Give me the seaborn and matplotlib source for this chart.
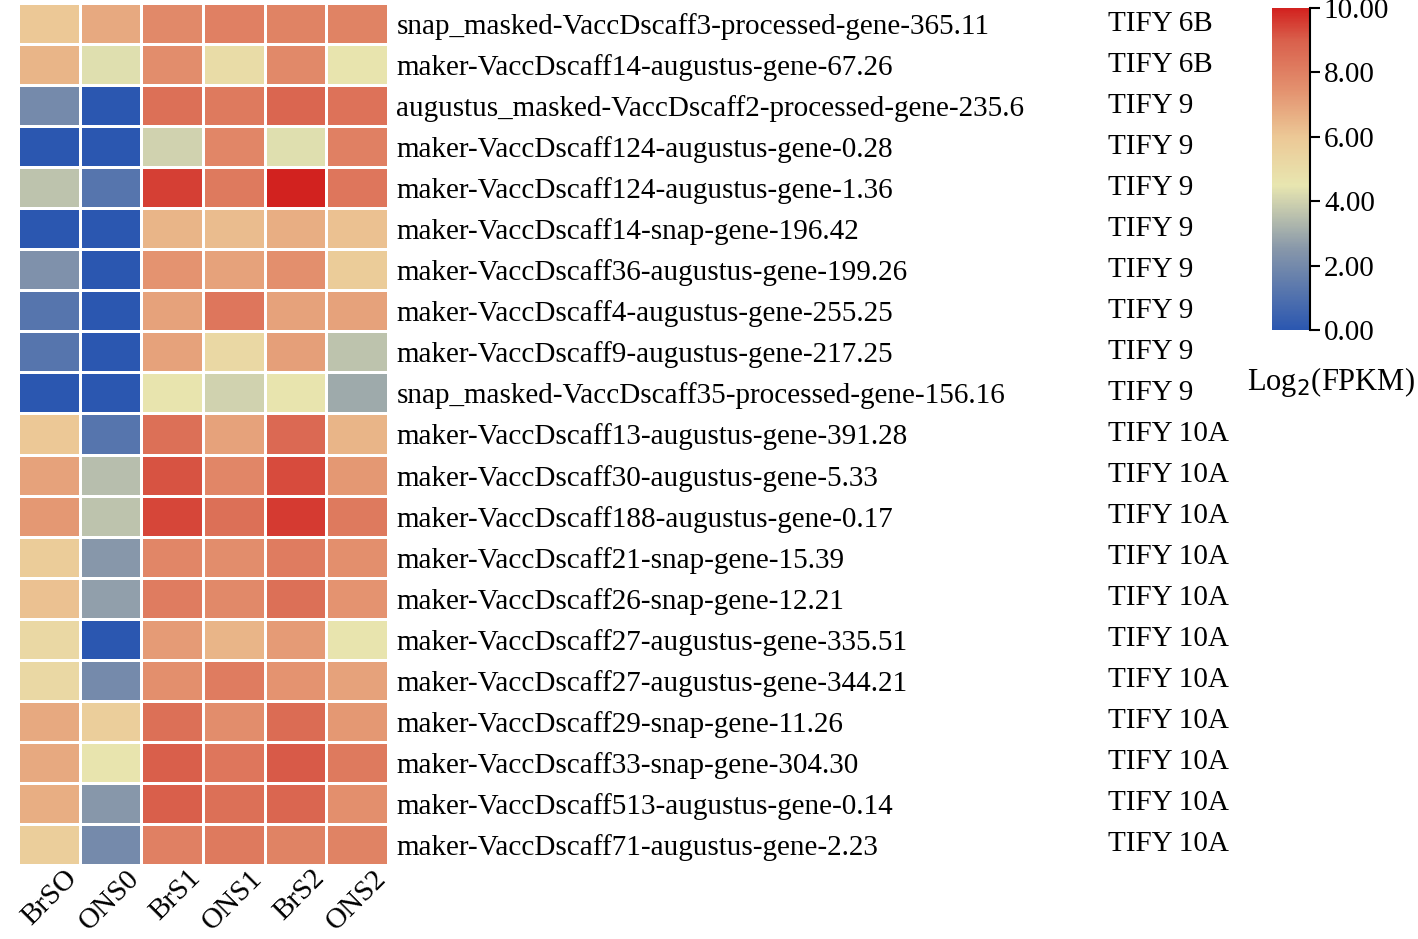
import numpy as np
import pandas as pd
import matplotlib
matplotlib.use('Agg')
import matplotlib.pyplot as plt
import seaborn as sns
from matplotlib.colors import LinearSegmentedColormap
from matplotlib import transforms

plt.rcParams['font.family'] = ['Liberation Serif', 'DejaVu Serif']

# 샘플 이름
samples = ['BrSO', 'ONS0', 'BrS1', 'ONS1', 'BrS2', 'ONS2']

genes = [
    'snap_masked-VaccDscaff3-processed-gene-365.11',
    'maker-VaccDscaff14-augustus-gene-67.26',
    'augustus_masked-VaccDscaff2-processed-gene-235.6',
    'maker-VaccDscaff124-augustus-gene-0.28',
    'maker-VaccDscaff124-augustus-gene-1.36',
    'maker-VaccDscaff14-snap-gene-196.42',
    'maker-VaccDscaff36-augustus-gene-199.26',
    'maker-VaccDscaff4-augustus-gene-255.25',
    'maker-VaccDscaff9-augustus-gene-217.25',
    'snap_masked-VaccDscaff35-processed-gene-156.16',
    'maker-VaccDscaff13-augustus-gene-391.28',
    'maker-VaccDscaff30-augustus-gene-5.33',
    'maker-VaccDscaff188-augustus-gene-0.17',
    'maker-VaccDscaff21-snap-gene-15.39',
    'maker-VaccDscaff26-snap-gene-12.21',
    'maker-VaccDscaff27-augustus-gene-335.51',
    'maker-VaccDscaff27-augustus-gene-344.21',
    'maker-VaccDscaff29-snap-gene-11.26',
    'maker-VaccDscaff33-snap-gene-304.30',
    'maker-VaccDscaff513-augustus-gene-0.14',
    'maker-VaccDscaff71-augustus-gene-2.23',
]

families = ['TIFY 6B', 'TIFY 6B'] + ['TIFY 9'] * 8 + ['TIFY 10A'] * 11

# log2(FPKM) 값 (그림에서 추정)
values = [
    [6.0, 6.8, 7.7, 8.0, 7.9, 7.9],
    [6.5, 4.3, 7.6, 5.0, 7.7, 4.6],
    [2.0, 0.0, 8.5, 8.2, 8.8, 8.4],
    [0.0, 0.0, 4.0, 7.8, 4.3, 8.0],
    [3.6, 1.2, 9.5, 8.2, 10.0, 8.3],
    [0.0, 0.0, 6.5, 6.3, 6.7, 6.2],
    [2.3, 0.0, 7.4, 7.0, 7.5, 5.8],
    [1.2, 0.0, 7.0, 8.3, 7.0, 7.0],
    [1.2, 0.0, 7.0, 5.2, 7.1, 3.6],
    [0.0, 0.0, 4.6, 4.0, 4.6, 3.0],
    [6.0, 1.2, 8.5, 7.0, 8.7, 6.5],
    [7.0, 3.5, 9.2, 7.8, 9.3, 7.3],
    [7.3, 3.6, 9.4, 8.5, 9.6, 8.2],
    [5.8, 2.5, 7.8, 7.6, 8.1, 7.5],
    [6.2, 2.7, 8.1, 7.7, 8.5, 7.4],
    [5.2, 0.0, 7.2, 6.5, 7.2, 4.6],
    [5.2, 2.0, 7.5, 8.1, 7.4, 7.0],
    [6.8, 5.7, 8.5, 7.6, 8.6, 7.3],
    [6.8, 4.6, 9.0, 8.3, 9.1, 8.2],
    [6.7, 2.5, 9.0, 8.5, 8.8, 7.5],
    [5.7, 2.0, 8.0, 8.2, 7.9, 7.9],
]

df = pd.DataFrame(values, index=genes, columns=samples)

cmap = LinearSegmentedColormap.from_list('tb', [
    (0.0, '#2b57b0'), (0.25, '#8797aa'), (0.45, '#e8e6b0'),
    (0.6, '#ecc896'), (0.75, '#e3906e'), (0.9, '#d9604c'),
    (1.0, '#d2221f')])

fig = plt.figure(figsize=(14.18, 9.39), dpi=100)
ax = fig.add_axes([18 / 1418, 1 - 865 / 939, 370 / 1418, 862 / 939])
cax = fig.add_axes([1272 / 1418, 1 - 330 / 939, 38 / 1418, 322 / 939])

sns.heatmap(df, ax=ax, cmap=cmap, vmin=0, vmax=10, linewidths=1.8,
            linecolor='white', cbar_ax=cax,
            cbar_kws={'ticks': [0, 2, 4, 6, 8, 10], 'format': '%.2f'})

# 유전자 이름 오른쪽
ax.yaxis.tick_right()
ax.set_yticks(np.arange(len(genes)) + 0.5)
ax.set_yticklabels(genes, rotation=0, fontsize=21)
ax.tick_params(axis='y', length=0, pad=6)
ax.set_xticks(np.arange(len(samples)) + 0.75)
ax.set_xticklabels(samples, rotation=45, ha='right', rotation_mode='anchor',
                   fontsize=21)
ax.tick_params(axis='x', length=0, pad=0)
ax.set_xlabel('')
ax.set_ylabel('')

trans = transforms.blended_transform_factory(fig.transFigure, ax.transData)
for i, fam in enumerate(families):
    ax.text(1108 / 1418, i + 0.5, fam, transform=trans, va='center',
            ha='left', fontsize=21)

# 컬러바
cax.tick_params(labelsize=21, length=7, width=1.5, pad=3)
cax.plot([1, 1], [0, 1], transform=cax.transAxes, color='black', lw=1.5,
         clip_on=False)
cax.text(1331 / 1418, 1 - 382 / 939, 'Log$_2$(FPKM)',
         transform=fig.transFigure, ha='center', va='center', fontsize=22)

fig.savefig('out.png', dpi=100)
